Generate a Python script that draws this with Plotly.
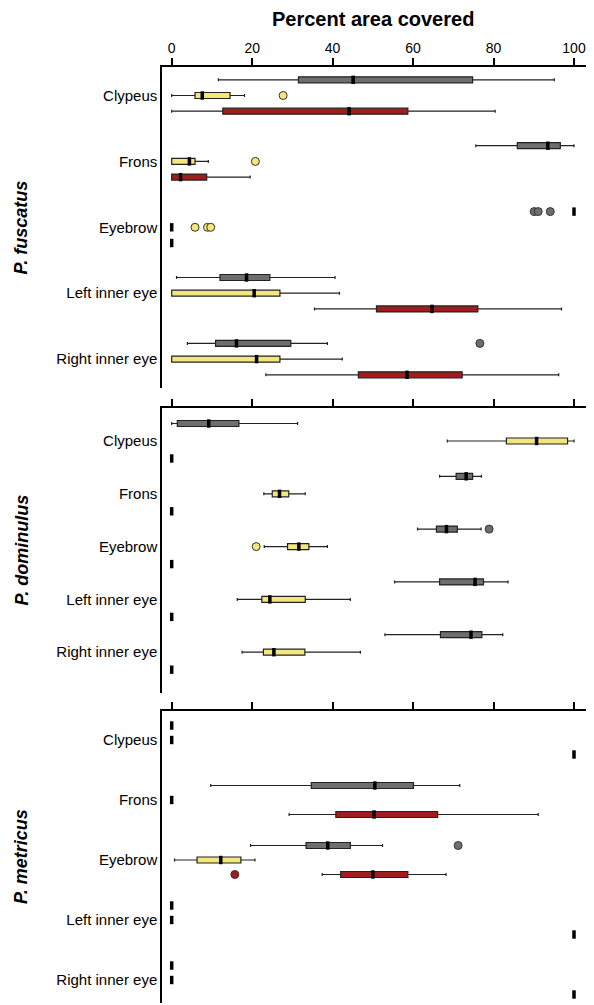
import plotly.graph_objects as go

# ---------------- data ----------------
categories = ["Clypeus", "Frons", "Eyebrow", "Left inner eye", "Right inner eye"]
species = ["P. fuscatus", "P. dominulus", "P. metricus"]
series_names = ["Dark", "Yellow", "Red"]
x_ticks = [0, 20, 40, 60, 80, 100]

# each entry: (lower whisker, q1, median, q3, upper whisker) or a single value (all equal)
fuscatus_dark = [(11.6, 31.5, 45.1, 74.8, 95.1), (75.6, 85.9, 93.5, 96.6, 100), 100,
                 (1.2, 12.0, 18.6, 24.4, 40.6), (3.9, 10.9, 16.1, 29.6, 38.7)]
fuscatus_yellow = [(0, 5.8, 7.6, 14.5, 18.1), (0, 0, 4.4, 5.8, 9.1), 0,
                   (0, 0, 20.5, 26.9, 41.7), (0, 0, 21.1, 26.9, 42.4)]
fuscatus_red = [(0, 12.7, 44.1, 58.7, 80.4), (0, 0, 2.2, 8.7, 19.5), 0,
                (35.5, 50.9, 64.7, 76.1, 96.9), (23.4, 46.4, 58.5, 72.2, 96.2)]
fuscatus_dark_out = [[], [], [90.1, 91.1, 94.1], [], [76.6]]
fuscatus_yellow_out = [[27.7], [20.8], [5.8, 8.9, 9.7], [], []]
fuscatus_red_out = [[], [], [], [], []]

dominulus_dark = [(0, 1.4, 9.2, 16.7, 31.3), (66.6, 70.7, 73.2, 74.8, 77.0),
                  (61.1, 65.8, 68.3, 71.0, 76.9), (55.4, 66.6, 75.4, 77.5, 83.6),
                  (53.0, 66.8, 74.4, 77.1, 82.3)]
dominulus_yellow = [(68.5, 83.2, 90.7, 98.4, 100), (22.9, 25.0, 26.8, 29.1, 33.2),
                    (23.0, 28.8, 31.6, 34.1, 38.7), (16.3, 22.4, 24.4, 33.2, 44.4),
                    (17.5, 22.8, 25.4, 33.1, 46.9)]
dominulus_red = [0, 0, 0, 0, 0]
dominulus_dark_out = [[], [], [78.9], [], []]
dominulus_yellow_out = [[], [], [21.0], [], []]
dominulus_red_out = [[], [], [], [], []]

metricus_dark = [0, (9.7, 34.7, 50.5, 60.1, 71.6), (19.6, 33.4, 38.8, 44.4, 52.4), 0, 0]
metricus_yellow = [0, 0, (0.7, 6.3, 12.2, 17.2, 20.7), 0, 0]
metricus_red = [100, (29.2, 40.8, 50.3, 66.1, 91.1), (37.4, 42.0, 50.0, 58.7, 68.2), 100, 100]
metricus_dark_out = [[], [], [71.2], [], []]
metricus_yellow_out = [[], [], [], [], []]
metricus_red_out = [[], [], [15.7], [], []]

# ---------------- styling / layout ----------------
PAGE_W, PAGE_H = 594, 1005
BODY = 8                      # default page body margin
W, H = PAGE_W - BODY, PAGE_H - BODY
fill_colors = ["#6e6e6e", "#f3e67c", "#a11d1d"]
FONT = "Liberation Sans, Arial, Helvetica, sans-serif"


def px_x(px):
    return (px - BODY) / W


def px_y(py):
    return 1 - (py - BODY) / H


# panel geometry in page pixels: top, bottom, first category centre, spacing, series offset
panels = [
    dict(top=67, bottom=388, c0=95.5, sp=65.9, off=15.7),
    dict(top=408, bottom=693, c0=441.0, sp=52.8, off=17.5),
    dict(top=711, bottom=1003, c0=740.0, sp=60.0, off=14.5),
]
x_left_px, x0_px, x100_px = 162, 171.7, 574.0
ppu = (x100_px - x0_px) / 100.0
x_range = [(x_left_px - x0_px) / ppu, (PAGE_W - x0_px) / ppu]

data_sets = [
    (fuscatus_dark, fuscatus_yellow, fuscatus_red,
     fuscatus_dark_out, fuscatus_yellow_out, fuscatus_red_out),
    (dominulus_dark, dominulus_yellow, dominulus_red,
     dominulus_dark_out, dominulus_yellow_out, dominulus_red_out),
    (metricus_dark, metricus_yellow, metricus_red,
     metricus_dark_out, metricus_yellow_out, metricus_red_out),
]

fig = go.Figure()
layout_axes = {}

for p, (geo, ds) in enumerate(zip(panels, data_sets)):
    k = p + 1
    xa = "x" if k == 1 else f"x{k}"
    ya = "y" if k == 1 else f"y{k}"
    off_u = geo["off"] / geo["sp"]
    box_w = 6.0 / geo["sp"]
    stats_lists = ds[:3]
    out_lists = ds[3:]
    for s in range(3):
        pos = [i + (s - 1) * off_u for i in range(len(categories))]
        ys, lo, q1, med, q3, hi = [], [], [], [], [], []
        med_x, med_y = [], []
        for i, st in enumerate(stats_lists[s]):
            if isinstance(st, tuple):
                ys.append(pos[i]); lo.append(st[0]); q1.append(st[1])
                med.append(st[2]); q3.append(st[3]); hi.append(st[4])
                med_x.append(st[2])
            else:
                med_x.append(st)
            med_y.append(pos[i])
        if ys:
            fig.add_trace(go.Box(
                orientation="h", y=ys, q1=q1, median=med, q3=q3,
                lowerfence=lo, upperfence=hi,
                fillcolor=fill_colors[s], line=dict(color="#222222", width=1.2),
                width=box_w, whiskerwidth=0.5, boxpoints=False,
                name=series_names[s], showlegend=False,
                xaxis=xa, yaxis=ya,
            ))
        # medians / single values
        fig.add_trace(go.Scatter(
            x=med_x, y=med_y, mode="markers",
            marker=dict(symbol="line-ns", size=6, line=dict(width=3.5, color="black")),
            showlegend=False, hoverinfo="x", xaxis=xa, yaxis=ya,
        ))
        # outliers
        ox, oy = [], []
        for i, vals in enumerate(out_lists[s]):
            for v in vals:
                ox.append(v); oy.append(pos[i])
        if ox:
            fig.add_trace(go.Scatter(
                x=ox, y=oy, mode="markers",
                marker=dict(symbol="circle", size=8, color=fill_colors[s],
                            line=dict(width=1, color="#333333")),
                showlegend=False, hoverinfo="x", xaxis=xa, yaxis=ya,
            ))

    ydom = [px_y(geo["bottom"]), px_y(geo["top"])]
    yr = [(geo["bottom"] - geo["c0"]) / geo["sp"], (geo["top"] - geo["c0"]) / geo["sp"]]
    xkey = "xaxis" if k == 1 else f"xaxis{k}"
    ykey = "yaxis" if k == 1 else f"yaxis{k}"
    layout_axes[xkey] = dict(
        domain=[px_x(x_left_px), 1], range=x_range, side="top", anchor=ya,
        showline=True, linecolor="black", linewidth=1.5,
        ticks="outside", ticklen=7, tickwidth=2, tickcolor="black",
        tickvals=x_ticks, showticklabels=(k == 1),
        tickfont=dict(size=14, color="black", family=FONT),
        showgrid=False, zeroline=False, fixedrange=True, automargin=False,
    )
    layout_axes[ykey] = dict(
        domain=ydom, range=yr, anchor=xa,
        showline=True, linecolor="black", linewidth=1.5,
        ticks="", tickvals=list(range(len(categories))), ticktext=categories,
        tickfont=dict(size=15, color="black", family=FONT),
        showgrid=False, zeroline=False, fixedrange=True, automargin=False,
    )

annotations = [dict(
    text="<b>Percent area covered</b>", x=px_x(373), y=px_y(19),
    xref="paper", yref="paper", showarrow=False,
    font=dict(size=20, color="black", family=FONT), xanchor="center", yanchor="middle",
)]
for name, geo in zip(species, panels):
    annotations.append(dict(
        text=f"<b><i>{name}</i></b>", x=px_x(21),
        y=px_y((geo["top"] + geo["bottom"]) / 2),
        xref="paper", yref="paper", showarrow=False, textangle=-90,
        font=dict(size=18, color="black", family=FONT),
        xanchor="center", yanchor="middle",
    ))

fig.update_layout(
    width=W, height=H, margin=dict(l=0, r=0, t=0, b=0),
    paper_bgcolor="white", plot_bgcolor="white",
    showlegend=False, boxmode="overlay",
    annotations=annotations, font=dict(family=FONT, color="black"),
    **layout_axes,
)

fig.write_html("out.html")
